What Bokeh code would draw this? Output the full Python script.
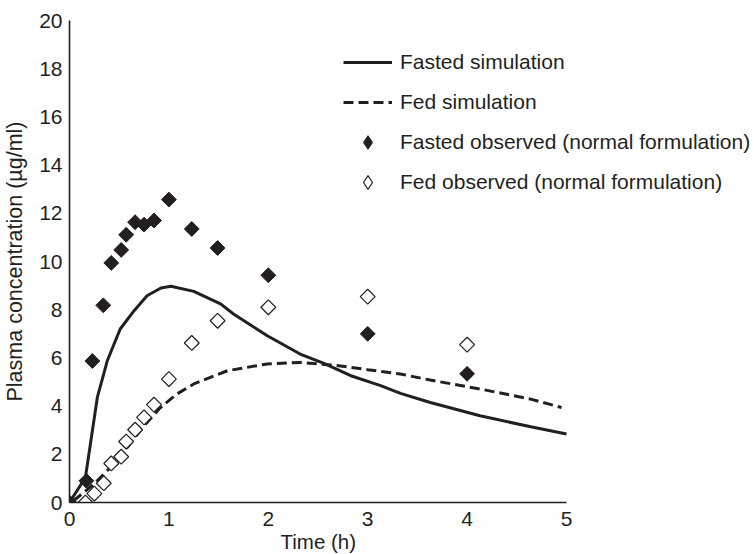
import math
from bokeh.plotting import figure
from bokeh.models import FixedTicker, Legend, LegendItem, Title
from bokeh.embed import file_html
from bokeh.resources import INLINE

# ---- data ----
fasted_sim_t = [0.0, 0.16, 0.21, 0.28, 0.38, 0.51, 0.65, 0.78, 0.92, 1.02, 1.25, 1.52, 1.65, 1.99,
                2.32, 2.56, 2.83, 3.13, 3.33, 3.63, 4.13, 4.64, 5.0]
fasted_sim_c = [0.0, 1.04, 2.42, 4.36, 5.88, 7.2, 7.96, 8.58, 8.9, 8.97, 8.76, 8.24, 7.82, 6.92,
                6.16, 5.77, 5.26, 4.85, 4.53, 4.15, 3.6, 3.14, 2.84]

fed_sim_t = [0.04, 0.245, 0.41, 0.58, 0.75, 0.915, 1.08, 1.25, 1.59, 1.89, 1.99, 2.32, 2.66, 3.0,
             3.33, 3.63, 4.13, 4.64, 4.95]
fed_sim_c = [0.07, 0.76, 1.45, 2.28, 3.18, 3.94, 4.5, 4.92, 5.47, 5.68, 5.75, 5.81, 5.7, 5.51,
             5.33, 5.08, 4.71, 4.29, 3.94]

fasted_obs_t = [0, 0.17, 0.23, 0.34, 0.42, 0.52, 0.57, 0.66, 0.75, 0.85, 1.0, 1.23, 1.49, 2.0, 3.0, 4.0]
fasted_obs_c = [0, 0.9, 5.87, 8.18, 9.94, 10.48, 11.11, 11.63, 11.53, 11.70, 12.57, 11.35, 10.56,
                9.43, 7.0, 5.34]

fed_obs_t = [0.16, 0.25, 0.345, 0.42, 0.52, 0.57, 0.66, 0.75, 0.85, 1.0, 1.23, 1.49, 2.0, 3.0, 4.0]
fed_obs_c = [0.0, 0.37, 0.8, 1.62, 1.9, 2.53, 3.02, 3.53, 4.06, 5.12, 6.62, 7.54, 8.1, 8.54, 6.55]

x_ticks = [0, 1, 2, 3, 4, 5]
y_ticks = [0, 2, 4, 6, 8, 10, 12, 14, 16, 18, 20]

legend_labels = ["Fasted simulation", "Fed simulation",
                 "Fasted observed (normal formulation)", "Fed observed (normal formulation)"]
x_title = "Time (h)"
y_title = "Plasma concentration (\u00b5g/ml)"

INK = "#231f20"
FONT = "Liberation Sans"

W, H = 754, 554
LEFT, TOP, FRAME_W, FRAME_H = 69, 20, 497, 482
X_MAX = 5
X_VIEW_END = X_MAX * (W - LEFT) / FRAME_W

p = figure(width=W, height=H, x_range=(0, X_VIEW_END), y_range=(0, 20),
           output_backend="svg", toolbar_location=None,
           min_border_left=LEFT, min_border_right=0, min_border_top=TOP,
           min_border_bottom=H - TOP - FRAME_H)
p.outline_line_color = None
p.xgrid.visible = False
p.ygrid.visible = False
p.background_fill_color = "white"
p.border_fill_color = "white"

r1 = p.line(fasted_sim_t, fasted_sim_c, line_color=INK, line_width=3)
r2 = p.line(fed_sim_t, fed_sim_c, line_color=INK, line_width=3, line_dash="10 5")
# legend-shaped diamonds, drawn underneath the rotated squares (which cover them)
r3 = p.scatter(fasted_obs_t, fasted_obs_c, marker="diamond", size=13,
               fill_color=INK, line_color=INK, line_width=1)
r4 = p.scatter(fed_obs_t, fed_obs_c, marker="diamond", size=13,
               fill_color="white", line_color=INK, line_width=1.2)
p.scatter(fasted_obs_t, fasted_obs_c, marker="square", size=10.5, angle=math.pi / 4,
          fill_color=INK, line_color=INK, line_width=1)
p.scatter(fed_obs_t, fed_obs_c, marker="square", size=10.5, angle=math.pi / 4,
          fill_color="white", line_color=INK, line_width=1.2)

for ax, ticks in ((p.xaxis[0], x_ticks), (p.yaxis[0], y_ticks)):
    ax.ticker = FixedTicker(ticks=ticks)
    ax.major_tick_out = 0
    ax.major_tick_in = 0
    ax.minor_tick_out = 0
    ax.minor_tick_in = 0
    ax.axis_line_color = INK
    ax.axis_line_width = 1.6
    ax.major_label_text_font = FONT
    ax.major_label_text_font_size = "21px"
    ax.major_label_text_color = INK
    ax.axis_label_text_font = FONT
    ax.axis_label_text_font_size = "21.5px"
    ax.axis_label_text_font_style = "normal"
    ax.axis_label_text_color = INK

p.xaxis[0].bounds = (0, X_MAX)
p.xaxis[0].major_label_standoff = 9
p.yaxis[0].axis_label = y_title
p.yaxis[0].major_label_standoff = 7
p.yaxis[0].axis_label_standoff = 9

# x title centred under the 0..5 part of the axis
p.add_layout(Title(text=x_title, align="left", offset=211, standoff=-2,
                   text_font=FONT, text_font_size="20.5px", text_font_style="normal",
                   text_color=INK), "below")

legend = Legend(items=[LegendItem(label=legend_labels[0], renderers=[r1]),
                       LegendItem(label=legend_labels[1], renderers=[r2]),
                       LegendItem(label=legend_labels[2], renderers=[r3]),
                       LegendItem(label=legend_labels[3], renderers=[r4])],
                location=(274, 303), orientation="vertical",
                glyph_width=49, glyph_height=34, label_height=34, spacing=6,
                label_standoff=8, padding=0, margin=0,
                label_text_font=FONT, label_text_font_size="21px", label_text_color=INK,
                border_line_alpha=0, background_fill_alpha=0)
p.add_layout(legend, "center")

open("out.html", "w").write(file_html(p, INLINE))
